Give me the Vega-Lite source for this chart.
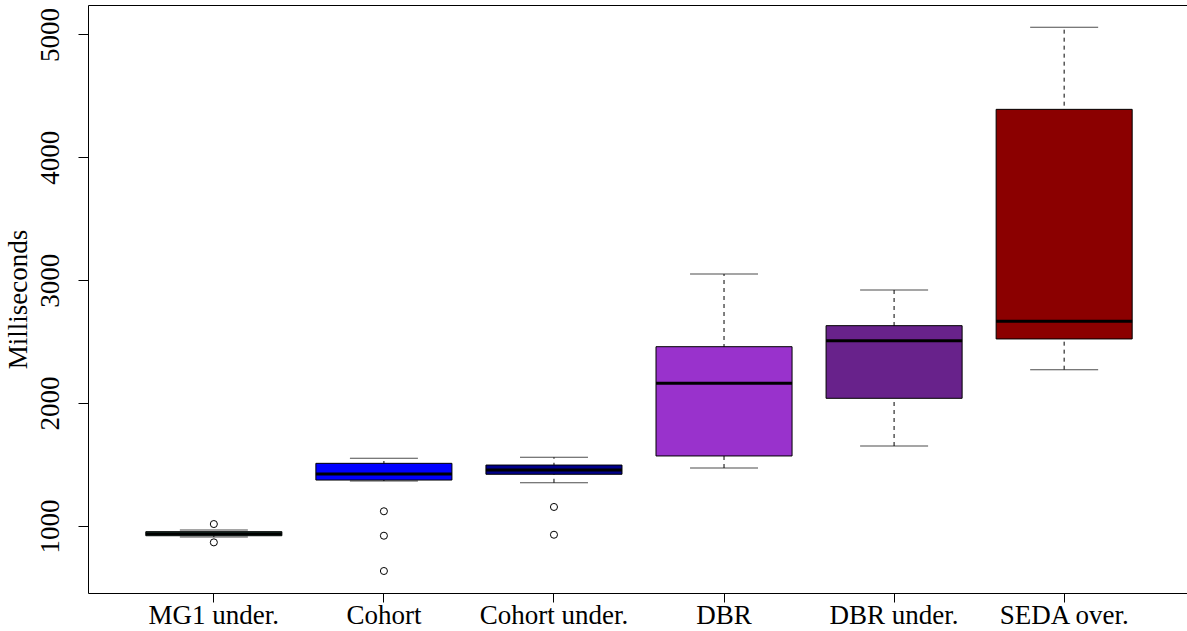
{
  "$schema": "https://vega.github.io/schema/vega-lite/v6.json",
  "autosize": "none",
  "padding": {"left": 88, "top": 5, "right": 0, "bottom": 38},
  "width": 1099,
  "height": 588,
  "background": "white",
  "config": {
    "view": {"stroke": "black", "strokeWidth": 1},
    "font": "Liberation Serif",
    "axis": {"grid": false, "domain": false, "tickColor": "black", "tickWidth": 1, "labelColor": "black", "titleColor": "black", "labelFont": "Liberation Serif", "titleFont": "Liberation Serif", "labelFontSize": 27, "titleFontSize": 27, "titleFontWeight": "normal"}
  },
  "datasets": {
    "boxes": [
      {"group": "MG1 under.", "lower": 910, "q1": 921, "median": 937, "q3": 954, "upper": 967},
      {"group": "Cohort", "lower": 1366, "q1": 1374, "median": 1423, "q3": 1510, "upper": 1551},
      {"group": "Cohort under.", "lower": 1352, "q1": 1421, "median": 1456, "q3": 1496, "upper": 1559},
      {"group": "DBR", "lower": 1472, "q1": 1570, "median": 2161, "q3": 2459, "upper": 3050},
      {"group": "DBR under.", "lower": 1651, "q1": 2039, "median": 2508, "q3": 2630, "upper": 2920},
      {"group": "SEDA over.", "lower": 2272, "q1": 2522, "median": 2666, "q3": 4390, "upper": 5058}
    ],
    "outliers": [
      {"group": "MG1 under.", "value": 1016},
      {"group": "MG1 under.", "value": 867},
      {"group": "Cohort", "value": 1120},
      {"group": "Cohort", "value": 921},
      {"group": "Cohort", "value": 634},
      {"group": "Cohort under.", "value": 1155},
      {"group": "Cohort under.", "value": 929}
    ]
  },
  "encoding": {
    "x": {
      "field": "group", "type": "nominal", "sort": null,
      "scale": {"domain": ["MG1 under.", "Cohort", "Cohort under.", "DBR", "DBR under.", "SEDA over."], "paddingInner": 0.2, "paddingOuter": 0.34, "range": [0, 1102]},
      "axis": {"title": null, "labelAngle": 0, "tickSize": 9, "labelPadding": 0, "labelBaseline": "top"}
    }
  },
  "layer": [
    {
      "data": {"name": "boxes"},
      "mark": {"type": "rule", "color": "black", "strokeWidth": 1, "strokeDash": [4, 4]},
      "encoding": {
        "y": {"field": "lower", "type": "quantitative", "scale": {"domain": [455, 5239], "nice": false, "zero": false}, "axis": {"title": "Milliseconds", "values": [1000, 2000, 3000, 4000, 5000], "format": "d", "labelAngle": 270, "labelAlign": "center", "labelBaseline": "bottom", "tickSize": 10, "labelPadding": 14, "titlePadding": 4}},
        "y2": {"field": "upper"}
      }
    },
    {
      "data": {"name": "boxes"},
      "mark": {"type": "tick", "color": "black", "size": 68, "thickness": 1},
      "encoding": {"y": {"field": "lower", "type": "quantitative"}}
    },
    {
      "data": {"name": "boxes"},
      "mark": {"type": "tick", "color": "black", "size": 68, "thickness": 1},
      "encoding": {"y": {"field": "upper", "type": "quantitative"}}
    },
    {
      "data": {"name": "boxes"},
      "mark": {"type": "bar", "stroke": "black", "strokeWidth": 1, "opacity": 1},
      "encoding": {
        "y": {"field": "q1", "type": "quantitative"},
        "y2": {"field": "q3"},
        "color": {"field": "group", "type": "nominal", "scale": {"domain": ["MG1 under.", "Cohort", "Cohort under.", "DBR", "DBR under.", "SEDA over."], "range": ["#458B74", "#0000FF", "#00008B", "#9932CC", "#68228B", "#8B0000"]}, "legend": null}
      }
    },
    {
      "data": {"name": "boxes"},
      "mark": {"type": "tick", "color": "black", "size": 136, "thickness": 3, "opacity": 1},
      "encoding": {"y": {"field": "median", "type": "quantitative"}}
    },
    {
      "data": {"name": "outliers"},
      "mark": {"type": "point", "shape": "circle", "filled": false, "color": "black", "size": 50, "strokeWidth": 1, "opacity": 1},
      "encoding": {"y": {"field": "value", "type": "quantitative"}}
    }
  ]
}
